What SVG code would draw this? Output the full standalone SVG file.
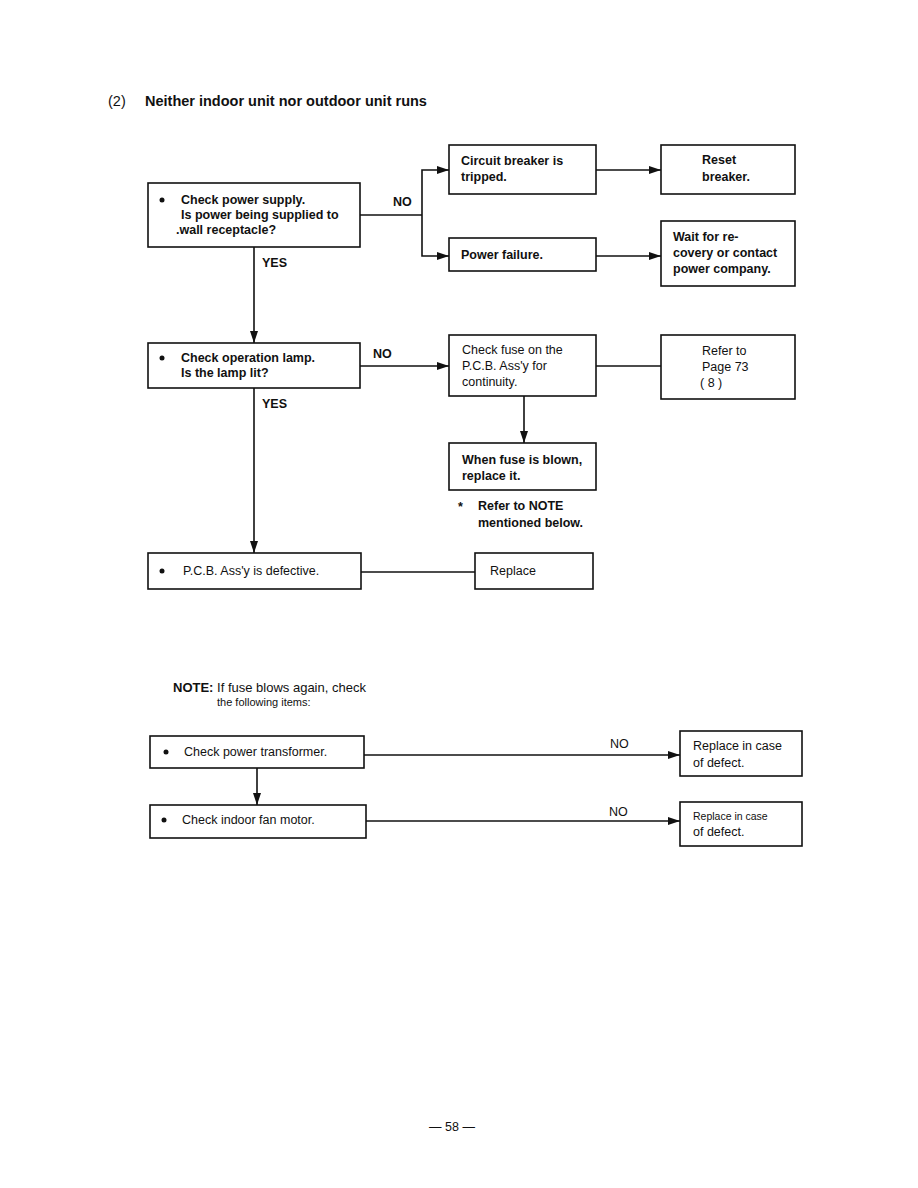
<svg xmlns="http://www.w3.org/2000/svg" width="918" height="1188" viewBox="0 0 918 1188">
<defs>
<marker id="ah" viewBox="0 0 12 8" refX="12" refY="4" markerWidth="12" markerHeight="8" markerUnits="userSpaceOnUse" orient="auto">
<path d="M0,0 L12,4 L0,8 Z" fill="#111"/>
</marker>
</defs>
<style>
text{font-family:"Liberation Sans",Arial,sans-serif;fill:#111;font-size:12.5px}
.b{font-weight:bold}
.t{font-size:14.5px;font-weight:bold}
.box{fill:#fff;stroke:#111;stroke-width:1.6}
.ln{fill:none;stroke:#111;stroke-width:1.6}
.ar{fill:none;stroke:#111;stroke-width:1.6;marker-end:url(#ah)}
.sm{font-size:11px}
.sm2{font-size:10.5px}
</style>
<rect width="918" height="1188" fill="#fff"/>
<text x="108" y="106" style="font-size:14.5px">(2)</text>
<text x="145" y="106" class="t">Neither indoor unit nor outdoor unit runs</text>

<g id="connectors">
<polyline class="ln" points="360,215 422,215"/>
<polyline class="ar" points="422,215 422,170 449,170"/>
<polyline class="ar" points="422,215 422,256 449,256"/>
<line class="ar" x1="596" y1="170" x2="661" y2="170"/>
<line class="ar" x1="596" y1="256" x2="661" y2="256"/>
<line class="ar" x1="254" y1="247" x2="254" y2="343"/>
<line class="ar" x1="360" y1="366" x2="449" y2="366"/>
<line class="ln" x1="596" y1="366" x2="661" y2="366"/>
<line class="ar" x1="524" y1="396" x2="524" y2="443"/>
<line class="ar" x1="254" y1="388" x2="254" y2="553"/>
<line class="ln" x1="361" y1="572" x2="475" y2="572"/>
<line class="ar" x1="364" y1="755" x2="680" y2="755"/>
<line class="ar" x1="257" y1="768" x2="257" y2="805"/>
<line class="ar" x1="366" y1="821" x2="680" y2="821"/>
<text x="393" y="206" class="b">NO</text>
<text x="262" y="267" class="b">YES</text>
<text x="373" y="358" class="b">NO</text>
<text x="262" y="408" class="b">YES</text>
<text x="610" y="748">NO</text>
<text x="609" y="816">NO</text>
</g>

<g id="n1">
<rect class="box" x="148" y="183" width="212" height="64"/>
<circle cx="162" cy="200" r="2.5" fill="#111"/>
<text x="181" y="204" class="b">Check power supply.</text>
<text x="181" y="219" class="b">Is power being supplied to</text>
<text x="176" y="234" class="b">.wall receptacle?</text>
</g>
<g id="n2">
<rect class="box" x="449" y="145" width="147" height="49"/>
<text x="461" y="165" class="b">Circuit breaker is</text>
<text x="461" y="181" class="b">tripped.</text>
</g>
<g id="n3">
<rect class="box" x="661" y="145" width="134" height="49"/>
<text x="702" y="164" class="b">Reset</text>
<text x="702" y="181" class="b">breaker.</text>
</g>
<g id="n4">
<rect class="box" x="449" y="238" width="147" height="33"/>
<text x="461" y="259" class="b">Power failure.</text>
</g>
<g id="n5">
<rect class="box" x="661" y="221" width="134" height="65"/>
<text x="673" y="241" class="b">Wait for re-</text>
<text x="673" y="257" class="b">covery or contact</text>
<text x="673" y="273" class="b">power company.</text>
</g>
<g id="n6">
<rect class="box" x="148" y="343" width="212" height="45"/>
<circle cx="162" cy="358" r="2.5" fill="#111"/>
<text x="181" y="362" class="b">Check operation lamp.</text>
<text x="181" y="377" class="b">Is the lamp lit?</text>
</g>
<g id="n7">
<rect class="box" x="449" y="335" width="147" height="61"/>
<text x="462" y="354">Check fuse on the</text>
<text x="462" y="370">P.C.B. Ass'y for</text>
<text x="462" y="386">continuity.</text>
</g>
<g id="n8">
<rect class="box" x="661" y="335" width="134" height="64"/>
<text x="702" y="355">Refer to</text>
<text x="702" y="371">Page 73</text>
<text x="700" y="387">( 8 )</text>
</g>
<g id="n9">
<rect class="box" x="449" y="443" width="147" height="47"/>
<text x="462" y="464" class="b">When fuse is blown,</text>
<text x="462" y="480" class="b">replace it.</text>
</g>
<g id="note1">
<text x="458" y="511" class="b">*</text>
<text x="478" y="510" class="b">Refer to NOTE</text>
<text x="478" y="527" class="b">mentioned below.</text>
</g>
<g id="n10">
<rect class="box" x="148" y="553" width="213" height="36"/>
<circle cx="162" cy="571" r="2.5" fill="#111"/>
<text x="183" y="575">P.C.B. Ass'y is defective.</text>
</g>
<g id="n11">
<rect class="box" x="475" y="553" width="118" height="36"/>
<text x="490" y="575">Replace</text>
</g>
<g id="note2">
<text x="173" y="692" style="font-size:13px"><tspan class="b">NOTE:</tspan> If fuse blows again, check</text>
<text x="217" y="706" class="sm">the following items:</text>
</g>
<g id="n12">
<rect class="box" x="150" y="736" width="214" height="32"/>
<circle cx="166" cy="752" r="2.5" fill="#111"/>
<text x="184" y="756">Check power transformer.</text>
</g>
<g id="n13">
<rect class="box" x="680" y="731" width="122" height="45"/>
<text x="693" y="750">Replace in case</text>
<text x="693" y="767">of defect.</text>
</g>
<g id="n14">
<rect class="box" x="150" y="805" width="216" height="33"/>
<circle cx="164" cy="820" r="2.5" fill="#111"/>
<text x="182" y="824">Check indoor fan motor.</text>
</g>
<g id="n15">
<rect class="box" x="680" y="802" width="122" height="44"/>
<text x="693" y="820" class="sm2">Replace in case</text>
<text x="693" y="836">of defect.</text>
</g>
<text x="452" y="1131" text-anchor="middle">— 58 —</text>
</svg>
